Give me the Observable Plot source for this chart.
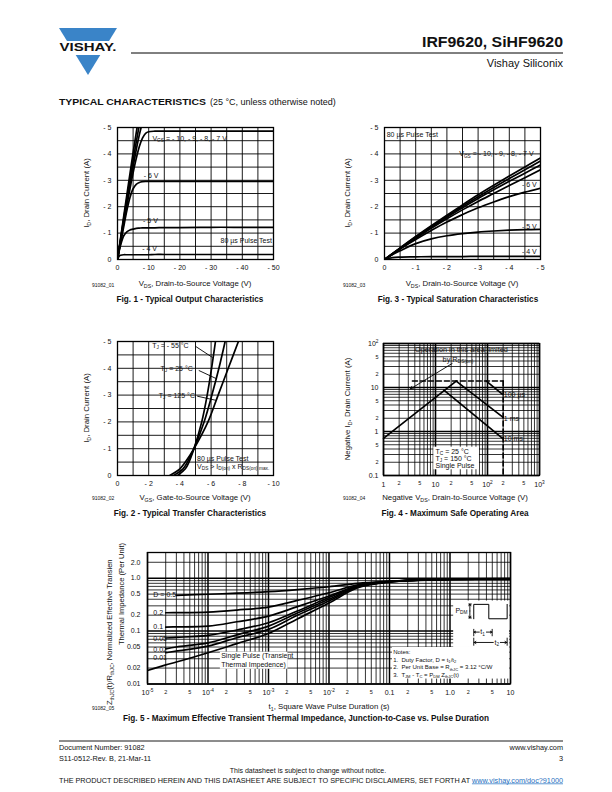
<!DOCTYPE html>
<html><head><meta charset="utf-8">
<script src="https://cdn.jsdelivr.net/npm/d3@7"></script>
<script src="https://cdn.jsdelivr.net/npm/@observablehq/plot@0.6"></script>
<style>
html,body{margin:0;padding:0;background:#fff;}
#page{position:relative;width:612px;height:792px;overflow:hidden;background:#fff;}
#ov{position:absolute;left:0;top:0;}
</style></head>
<body><div id="page"><svg id="ov" width="612" height="792" xmlns="http://www.w3.org/2000/svg"></svg></div>
<script>
// ---------------- DATA ----------------
// Fig. 1 - Typical Output Characteristics (VDS, ID)
const fig1Vds = [0,-0.5,-1,-2,-3,-4,-5,-6,-7,-8,-9,-10,-12,-15,-20,-30,-40,-50];
const fig1Id_vgs10 = [0,-0.41,-0.82,-1.64,-2.45,-3.25,-4.05,-4.8,-5.5];
const fig1Id_vgs9  = [0,-0.39,-0.78,-1.55,-2.3,-3.05,-3.75,-4.45,-5.1];
const fig1Id_vgs8  = [0,-0.37,-0.74,-1.47,-2.18,-2.87,-3.52,-4.15,-4.72,-5.2];
const fig1Id_vgs7  = [0,-0.35,-0.7,-1.38,-2.04,-2.68,-3.28,-3.82,-4.28,-4.6,-4.78,-4.84,-4.86,-4.86,-4.86,-4.86,-4.86,-4.86];
const fig1Id_vgs6  = [0,-0.33,-0.62,-1.25,-1.85,-2.35,-2.68,-2.85,-2.92,-2.95,-2.96,-2.96,-2.96,-2.96,-2.96,-2.96,-2.96,-2.96];
const fig1Id_vgs5  = [0,-0.3,-0.55,-0.9,-1.05,-1.12,-1.15,-1.18,-1.19,-1.2,-1.2,-1.2,-1.2,-1.21,-1.21,-1.22,-1.22,-1.22];
const fig1Id_vgs4  = [0,-0.12,-0.16,-0.18,-0.18,-0.18,-0.18,-0.18,-0.18,-0.18,-0.18,-0.18,-0.19,-0.19,-0.19,-0.19,-0.19,-0.19];
const fig1XTicks = [0,-10,-20,-30,-40,-50];
const fig1YTicks = [0,-1,-2,-3,-4,-5];

// Fig. 3 - Typical Saturation Characteristics
const fig3Vds = [0,-0.25,-0.5,-1,-1.5,-2,-2.5,-3,-3.5,-4,-4.5,-5];
const fig3Id_vgs10 = [0,-0.22,-0.44,-0.87,-1.28,-1.68,-2.07,-2.45,-2.81,-3.16,-3.5,-3.85];
const fig3Id_vgs9  = [0,-0.22,-0.43,-0.85,-1.25,-1.64,-2.02,-2.38,-2.73,-3.07,-3.4,-3.73];
const fig3Id_vgs8  = [0,-0.21,-0.42,-0.83,-1.22,-1.6,-1.96,-2.31,-2.64,-2.96,-3.27,-3.58];
const fig3Id_vgs7  = [0,-0.2,-0.41,-0.8,-1.18,-1.54,-1.88,-2.2,-2.5,-2.8,-3.1,-3.4];
const fig3Id_vgs6  = [0,-0.2,-0.4,-0.76,-1.1,-1.42,-1.7,-1.96,-2.18,-2.38,-2.55,-2.7];
const fig3Id_vgs5  = [0,-0.18,-0.33,-0.6,-0.78,-0.9,-0.98,-1.04,-1.08,-1.11,-1.13,-1.14];
const fig3Id_vgs4  = [0,-0.07,-0.09,-0.1,-0.11,-0.11,-0.11,-0.12,-0.12,-0.12,-0.12,-0.12];
const fig3XTicks = [0,-1,-2,-3,-4,-5];
const fig3YTicks = [0,-1,-2,-3,-4,-5];

// Fig. 2 - Typical Transfer Characteristics (ID common, VGS per TJ)
const fig2Id = [0,-0.25,-0.5,-1,-2,-3,-4,-5];
const fig2Vgs_m55 = [-3.85,-4.35,-4.58,-4.9,-5.4,-5.75,-6.03,-6.28];
const fig2Vgs_25  = [-3.6,-4.2,-4.48,-4.9,-5.55,-6.05,-6.5,-6.9];
const fig2Vgs_125 = [-3.35,-4.0,-4.35,-4.9,-5.8,-6.45,-7.1,-7.75];
const fig2XTicks = [0,-2,-4,-6,-8,-10];
const fig2YTicks = [0,-1,-2,-3,-4,-5];

// Fig. 4 - Maximum Safe Operating Area (segments, VDS / ID)
const soaRdsV = [1,25],      soaRdsI = [0.7,14];
const soa100usV = [95,200],  soa100usI = [14,6.8];
const soa1msV = [25,200],    soa1msI = [14,2.1];
const soa10msV = [14.5,200], soa10msI = [8.7,0.68];
const soaIdmV = [3.6,200],   soaIdmI = [14,14];
const soaVdssV = [200,200],  soaVdssI = [14,0.1];
const fig4XMajorTicks = [1,10,100,1000], fig4XMajorLabels = ["1","10","10^{2}","10^{3}"];
const fig4XMinorTicks = [2,5,20,50,200,500], fig4XMinorLabels = ["2","5","2","5","2","5"];
const fig4YMajorTicks = [0.1,1,10,100], fig4YMajorLabels = ["0.1","1","10","10^{2}"];
const fig4YMinorTicks = [0.2,0.5,2,5,20,50], fig4YMinorLabels = ["2","5","2","5","2","5"];

// Fig. 5 - Transient thermal impedance
const fig5T = [1e-5,2e-5,3e-5,1e-4,3e-4,1e-3,3e-3,1e-2,3e-2,0.1,0.3,1,10];
const fig5Z_D05  = [null,null,0.475,0.497,0.52,0.557,0.61,0.69,0.80,0.875,0.93,0.96,0.98];
const fig5Z_D02  = [null,0.222,0.223,0.229,0.25,0.285,0.38,0.53,0.75,0.87,0.925,0.955,0.975];
const fig5Z_D01  = [null,0.119,0.12,0.124,0.15,0.192,0.29,0.46,0.72,0.865,0.92,0.955,0.975];
const fig5Z_D005 = [null,0.074,0.076,0.083,0.105,0.144,0.24,0.43,0.71,0.86,0.92,0.95,0.975];
const fig5Z_D002 = [null,0.046,0.05,0.06,0.085,0.124,0.22,0.40,0.69,0.855,0.915,0.95,0.975];
const fig5Z_D001 = [null,0.039,0.042,0.052,0.075,0.108,0.2,0.37,0.68,0.85,0.915,0.95,0.975];
const fig5Z_single = [0.018,0.023,0.026,0.039,0.058,0.09,0.17,0.34,0.66,0.845,0.91,0.95,0.975];
const fig5XMajorTicks = [1e-5,1e-4,1e-3,1e-2,0.1,1,10];
const fig5XMajorLabels = ["10^{-5}","10^{-4}","10^{-3}","10^{-2}","0.1","1.0","10"];
const fig5XMinorTicks = [2e-5,5e-5,2e-4,5e-4,2e-3,5e-3,2e-2,5e-2,0.2,0.5,2,5];
const fig5YTicks = [2,1,0.5,0.2,0.1,0.05,0.02,0.01];
const fig5YLabels = ["2.0","1.0","0.5","0.2","0.1","0.05","0.02","0.01"];
const pulseT = [2.47,2.47,4.38,4.38,8.8,8.8], pulseZ = [0.171,0.32,0.32,0.171,0.171,0.32];

// ---------------- HELPERS ----------------
const NS = "http://www.w3.org/2000/svg";
const FONT = "'Liberation Sans', Arial, Helvetica, sans-serif";
const INK = "#111";
const page = document.getElementById("page");
const ov = document.getElementById("ov");

function richText(t, size) {
  const s = t.textContent;
  if (!/[_^]\{/.test(s)) return;
  while (t.firstChild) t.removeChild(t.firstChild);
  const re = /([_^])\{([^}]*)\}/g;
  let last = 0, cur = 0, m;
  const add = (str, off, small) => {
    const ts = document.createElementNS(NS, "tspan");
    const dy = off - cur;
    if (dy) ts.setAttribute("dy", dy.toFixed(2));
    if (small) ts.setAttribute("font-size", (size * 0.68).toFixed(2));
    ts.textContent = str;
    t.appendChild(ts);
    cur = off;
  };
  while ((m = re.exec(s))) {
    if (m.index > last) add(s.slice(last, m.index), 0, false);
    add(m[2], m[1] === "_" ? size * 0.2 : -size * 0.42, true);
    last = re.lastIndex;
  }
  if (last < s.length) add(s.slice(last), 0, false);
}

function otext(x, y, s, o = {}) {
  const size = o.size || 7.6;
  const t = document.createElementNS(NS, "text");
  t.setAttribute("x", x); t.setAttribute("y", y);
  t.setAttribute("font-size", size);
  t.setAttribute("font-family", FONT);
  if (o.weight) t.setAttribute("font-weight", o.weight);
  t.setAttribute("text-anchor", o.anchor || "start");
  t.setAttribute("fill", o.fill || INK);
  if (o.rotate) t.setAttribute("transform", `rotate(${o.rotate},${x},${y})`);
  t.textContent = s;
  ov.appendChild(t);
  richText(t, size);
  if (o.len) { t.setAttribute("textLength", o.len); t.setAttribute("lengthAdjust", "spacingAndGlyphs"); }
  return t;
}
function oline(x1, y1, x2, y2, w = 1) {
  const l = document.createElementNS(NS, "line");
  l.setAttribute("x1", x1); l.setAttribute("y1", y1); l.setAttribute("x2", x2); l.setAttribute("y2", y2);
  l.setAttribute("stroke", "#000"); l.setAttribute("stroke-width", w);
  ov.appendChild(l);
}
function opoly(pts, fill) {
  const p = document.createElementNS(NS, "polygon");
  p.setAttribute("points", pts.map(d => d.join(",")).join(" "));
  p.setAttribute("fill", fill);
  ov.appendChild(p);
}

function series(xs, list) {
  return list.flatMap(([k, ys]) => xs.map((x, i) => ({x, y: ys[i], k})).filter(d => d.y != null));
}
function seriesX(ys, list) {
  return list.flatMap(([k, xs]) => ys.map((y, i) => ({x: xs[i], y, k})));
}
function minorLog(lo, hi) {
  const a = [];
  for (let e = lo; e < hi; e++) for (let m = 2; m <= 9; m++) a.push(+(m * Math.pow(10, e)).toPrecision(3));
  return a;
}
const fmtNeg = d => d === 0 ? "0" : "- " + Math.abs(d);

const M = {l: 36, r: 12, t: 8, b: 18};
function place(opts, left, top, w, h) {
  const plot = Plot.plot({
    width: w + M.l + M.r, height: h + M.t + M.b,
    marginLeft: M.l, marginRight: M.r, marginTop: M.t, marginBottom: M.b,
    style: {background: "transparent", fontFamily: FONT, color: INK, overflow: "visible", maxWidth: "none"},
    ...opts
  });
  const div = document.createElement("div");
  div.style.cssText = `position:absolute;left:${left - M.l}px;top:${top - M.t}px;width:${w + M.l + M.r}px;`;
  div.appendChild(plot);
  page.appendChild(div);
  plot.querySelectorAll("text").forEach(t => richText(t, parseFloat(getComputedStyle(t).fontSize)));
  plot.querySelectorAll('g[aria-label="boxed"] text').forEach(t => {
    const bb = t.getBBox();
    const r = document.createElementNS(NS, "rect");
    r.setAttribute("x", bb.x - 1.2); r.setAttribute("y", bb.y - 0.2);
    r.setAttribute("width", bb.width + 2.4); r.setAttribute("height", bb.height + 0.4);
    r.setAttribute("fill", "white");
    const tr = t.getAttribute("transform");
    if (tr) r.setAttribute("transform", tr);
    t.parentNode.insertBefore(r, t);
  });
  return plot;
}
function linTicks(xd, yd, xt, yt) {
  return [
    Plot.text(xt, {x: d => d, y: yd[0], text: fmtNeg, dy: 8.5, fontSize: 7}),
    Plot.text(yt, {x: xd[0], y: d => d, text: fmtNeg, dx: -6, textAnchor: "end", fontSize: 7})
  ];
}
const GRID = {stroke: "#000", strokeWidth: 0.9};
const CURVE = {x: "x", y: "y", z: "k", stroke: "#000", strokeWidth: 1.7, curve: "catmull-rom", clip: true};
const BOX = {fontSize: 7, ariaLabel: "boxed", fill: INK};

// ---------------- FIG 1 ----------------
{
  const xd = [0, -50], yd = [0, -5];
  const data = series(fig1Vds, [["-10", fig1Id_vgs10], ["-9", fig1Id_vgs9], ["-8", fig1Id_vgs8], ["-7", fig1Id_vgs7], ["-6", fig1Id_vgs6], ["-5", fig1Id_vgs5], ["-4", fig1Id_vgs4]]);
  place({
    x: {domain: xd, axis: null}, y: {domain: yd, axis: null},
    marks: [
      Plot.ruleX(d3.range(0, -50.1, -5), GRID),
      Plot.ruleY(d3.range(0, -5.01, -0.5), GRID),
      Plot.line(data, CURVE),
      Plot.text(["V_{GS} = - 10, - 9, - 8, - 7 V"], {...BOX, x: -11.2, y: -4.57, textAnchor: "start"}),
      Plot.text(["- 6 V"], {...BOX, x: -8.4, y: -3.18, textAnchor: "start"}),
      Plot.text(["- 5 V"], {...BOX, x: -8.2, y: -1.45, textAnchor: "start"}),
      Plot.text(["- 4 V"], {...BOX, x: -7.9, y: -0.4, textAnchor: "start"}),
      Plot.text(["80 µs Pulse Test"], {...BOX, x: -49.5, y: -0.72, textAnchor: "end"}),
      Plot.frame({stroke: "#000", strokeWidth: 1.3}),
      ...linTicks(xd, yd, fig1XTicks, fig1YTicks)
    ]
  }, 117, 127, 156, 132);
}

// ---------------- FIG 3 ----------------
{
  const xd = [0, -5], yd = [0, -5];
  const data = series(fig3Vds, [["-10", fig3Id_vgs10], ["-9", fig3Id_vgs9], ["-8", fig3Id_vgs8], ["-7", fig3Id_vgs7], ["-6", fig3Id_vgs6], ["-5", fig3Id_vgs5], ["-4", fig3Id_vgs4]]);
  place({
    x: {domain: xd, axis: null}, y: {domain: yd, axis: null},
    marks: [
      Plot.ruleX(d3.range(0, -5.01, -0.5), GRID),
      Plot.ruleY(d3.range(0, -5.01, -0.5), GRID),
      Plot.line(data, CURVE),
      Plot.text(["80 µs Pulse Test"], {...BOX, x: -0.07, y: -4.72, textAnchor: "start"}),
      Plot.text(["V_{GS} = - 10, - 9, - 8, - 7 V"], {...BOX, x: -4.78, y: -4.0, textAnchor: "end"}),
      Plot.text(["- 6 V"], {...BOX, x: -4.88, y: -2.83, textAnchor: "end"}),
      Plot.text(["- 5 V"], {...BOX, x: -4.88, y: -1.25, textAnchor: "end"}),
      Plot.text(["- 4 V"], {...BOX, x: -4.88, y: -0.31, textAnchor: "end"}),
      Plot.frame({stroke: "#000", strokeWidth: 1.3}),
      ...linTicks(xd, yd, fig3XTicks, fig3YTicks)
    ]
  }, 384, 127, 156, 132);
}

// ---------------- FIG 2 ----------------
{
  const xd = [0, -10], yd = [0, -5];
  const data = seriesX(fig2Id, [["-55", fig2Vgs_m55], ["25", fig2Vgs_25], ["125", fig2Vgs_125]]);
  place({
    x: {domain: xd, axis: null}, y: {domain: yd, axis: null},
    marks: [
      Plot.ruleX(d3.range(0, -10.01, -1), GRID),
      Plot.ruleY(d3.range(0, -5.01, -0.5), GRID),
      Plot.line(data, CURVE),
      Plot.link([0], {x1: -5.0, y1: -4.82, x2: -6.1, y2: -4.4, stroke: "#000", strokeWidth: 0.9}),
      Plot.link([0], {x1: -5.21, y1: -3.92, x2: -6.35, y2: -3.61, stroke: "#000", strokeWidth: 0.9}),
      Plot.link([0], {x1: -5.11, y1: -2.96, x2: -6.35, y2: -2.8, stroke: "#000", strokeWidth: 0.9}),
      Plot.text(["T_{J} = - 55 °C"], {...BOX, x: -2.22, y: -4.85, textAnchor: "start"}),
      Plot.text(["T_{J} = 25 °C"], {...BOX, x: -2.76, y: -3.98, textAnchor: "start"}),
      Plot.text(["T_{J} = 125 °C"], {...BOX, x: -2.65, y: -2.98, textAnchor: "start"}),
      Plot.text(["80 µs Pulse Test"], {...BOX, x: -5.1, y: -0.64, textAnchor: "start"}),
      Plot.text(["V_{DS} > I_{D(on)} x R_{DS(on) max.}"], {...BOX, x: -5.1, y: -0.33, textAnchor: "start"}),
      Plot.frame({stroke: "#000", strokeWidth: 1.3}),
      ...linTicks(xd, yd, fig2XTicks, fig2YTicks)
    ]
  }, 117, 341, 156, 134);
}

// ---------------- FIG 4 ----------------
{
  const xd = [1, 1000], yd = [0.1, 100];
  const seg = (V, I, k) => V.map((v, i) => ({x: v, y: I[i], k}));
  const solid = [...seg(soaRdsV, soaRdsI, "rds"), ...seg(soa100usV, soa100usI, "100us"), ...seg(soa1msV, soa1msI, "1ms"), ...seg(soa10msV, soa10msI, "10ms")];
  const dashed = [...seg(soaIdmV, soaIdmI, "idm"), ...seg(soaVdssV, soaVdssI, "vdss")];
  place({
    x: {type: "log", domain: xd, axis: null}, y: {type: "log", domain: yd, axis: null},
    marks: [
      Plot.ruleX(minorLog(0, 3), {stroke: "#000", strokeWidth: 0.8}),
      Plot.ruleY(minorLog(-1, 2), {stroke: "#000", strokeWidth: 0.8}),
      Plot.ruleX(fig4XMajorTicks, {stroke: "#000", strokeWidth: 1.6}),
      Plot.ruleY(fig4YMajorTicks, {stroke: "#000", strokeWidth: 1.6}),
      Plot.rect([0], {x1: 9.3, x2: 70, y1: 0.135, y2: 0.44, fill: "white"}),
      Plot.line(dashed, {x: "x", y: "y", z: "k", stroke: "#000", strokeWidth: 1.6, strokeDasharray: "5,3"}),
      Plot.line(solid, {x: "x", y: "y", z: "k", stroke: "#000", strokeWidth: 1.7}),
      Plot.arrow([0], {x1: 20.9, y1: 35.1, x2: 3.3, y2: 9.3, stroke: "#000", strokeWidth: 0.9, headLength: 5}),
      Plot.text(["Operation in this area limited"], {...BOX, fontSize: 7.3, x: 31.5, y: 73, textAnchor: "middle"}),
      Plot.text(["by R_{DS(on)}"], {...BOX, fontSize: 7.3, x: 27, y: 43, textAnchor: "middle"}),
      Plot.text(["100 µs"], {...BOX, x: 206, y: 6.9, textAnchor: "start"}),
      Plot.text(["1 ms"], {...BOX, x: 206, y: 1.95, textAnchor: "start"}),
      Plot.text(["10 ms"], {...BOX, x: 206, y: 0.68, textAnchor: "start"}),
      Plot.text(["T_{C} = 25 °C"], {fontSize: 7, x: 10, y: 0.35, textAnchor: "start"}),
      Plot.text(["T_{J} = 150 °C"], {fontSize: 7, x: 10, y: 0.24, textAnchor: "start"}),
      Plot.text(["Single Pulse"], {fontSize: 7, x: 10, y: 0.164, textAnchor: "start"}),
      Plot.frame({stroke: "#000", strokeWidth: 1.3}),
      Plot.text(fig4XMajorTicks, {x: d => d, y: yd[0], text: (d, i) => fig4XMajorLabels[i], dy: 9, fontSize: 7}),
      Plot.text(fig4XMinorTicks, {x: d => d, y: yd[0], text: (d, i) => fig4XMinorLabels[i], dy: 8, fontSize: 5.5}),
      Plot.text(fig4YMajorTicks, {x: xd[0], y: d => d, text: (d, i) => fig4YMajorLabels[i], dx: -5, textAnchor: "end", fontSize: 7}),
      Plot.text(fig4YMinorTicks, {x: xd[0], y: d => d, text: (d, i) => fig4YMinorLabels[i], dx: -5, textAnchor: "end", fontSize: 5.5})
    ]
  }, 383, 343, 156, 132);
}

// ---------------- FIG 5 ----------------
{
  const xd = [1e-5, 10], yd = [0.01, 3.06];
  const data = series(fig5T, [["0.5", fig5Z_D05], ["0.2", fig5Z_D02], ["0.1", fig5Z_D01], ["0.05", fig5Z_D005], ["0.02", fig5Z_D002], ["0.01", fig5Z_D001], ["single", fig5Z_single]]);
  const pulse = pulseT.map((t, i) => ({x: t, y: pulseZ[i]}));
  const thin = {stroke: "#000", strokeWidth: 0.9, headLength: 3.5};
  const NOTE = {fontSize: 6.0, x: 0.115, textAnchor: "start"};
  place({
    x: {type: "log", domain: xd, axis: null}, y: {type: "log", domain: yd, axis: null},
    marks: [
      Plot.ruleX(minorLog(-5, 1), {stroke: "#000", strokeWidth: 0.8}),
      Plot.ruleY([...minorLog(-2, 0), 2], {stroke: "#000", strokeWidth: 0.8}),
      Plot.ruleX(fig5XMajorTicks, {stroke: "#000", strokeWidth: 1.5}),
      Plot.ruleY([0.01, 0.1, 1], {stroke: "#000", strokeWidth: 1.5}),
      Plot.line(data, CURVE),
      Plot.rect([0], {x1: 1.6e-4, x2: 2.1e-3, y1: 0.019, y2: 0.04, fill: "white"}),
      Plot.rect([0], {x1: 1.15, x2: 9.7, y1: 0.049, y2: 0.37, fill: "white"}),
      Plot.rect([0], {x1: 0.112, x2: 9.7, y1: 0.0124, y2: 0.049, fill: "white"}),
      Plot.text(["D = 0.5"], {...BOX, x: 1.25e-5, y: 0.48, textAnchor: "start"}),
      Plot.text(["0.2"], {...BOX, x: 1.25e-5, y: 0.222, textAnchor: "start"}),
      Plot.text(["0.1"], {...BOX, x: 1.25e-5, y: 0.119, textAnchor: "start"}),
      Plot.text(["0.05"], {...BOX, x: 1.25e-5, y: 0.071, textAnchor: "start"}),
      Plot.text(["0.02"], {...BOX, x: 1.25e-5, y: 0.0437, textAnchor: "start"}),
      Plot.text(["0.01"], {...BOX, x: 1.25e-5, y: 0.031, textAnchor: "start"}),
      Plot.text(["Single Pulse (Transient"], {fontSize: 7, x: 1.65e-4, y: 0.0336, textAnchor: "start"}),
      Plot.text(["Thermal Impedence)"], {fontSize: 7, x: 1.65e-4, y: 0.0233, textAnchor: "start"}),
      Plot.text(["Notes:"], {...NOTE, y: 0.0394}),
      Plot.text(["1.  Duty Factor, D = t_{1}/t_{2}"], {...NOTE, y: 0.02843}),
      Plot.text(["2.  Per Unit Base = R_{thJC} = 3.12 °C/W"], {...NOTE, y: 0.0205}),
      Plot.text(["3.  T_{JM} - T_{C} = P_{DM} Z_{thJC}(t)"], {...NOTE, y: 0.01479}),
      Plot.line(pulse, {x: "x", y: "y", stroke: "#000", strokeWidth: 1}),
      Plot.text(["P_{DM}"], {fontSize: 7, x: 1.23, y: 0.245, textAnchor: "start"}),
      Plot.arrow([0], {x1: 2.13, y1: 0.24, x2: 2.13, y2: 0.325, ...thin}),
      Plot.arrow([0], {x1: 2.13, y1: 0.24, x2: 2.13, y2: 0.177, ...thin}),
      Plot.link([0], {x1: 2.0, y1: 0.325, x2: 2.3, y2: 0.325, stroke: "#000", strokeWidth: 0.8}),
      Plot.link([0], {x1: 2.0, y1: 0.177, x2: 2.3, y2: 0.177, stroke: "#000", strokeWidth: 0.8}),
      Plot.link([0, 1], {x1: (d, i) => [2.47, 4.98][i], x2: (d, i) => [2.47, 4.98][i], y1: 0.08, y2: 0.11, stroke: "#000", strokeWidth: 0.9}),
      Plot.arrow([0], {x1: 3.05, y1: 0.0957, x2: 2.5, y2: 0.0957, ...thin}),
      Plot.arrow([0], {x1: 4.0, y1: 0.0957, x2: 4.93, y2: 0.0957, ...thin}),
      Plot.text(["t_{1}"], {fontSize: 7, x: 3.45, y: 0.0957, textAnchor: "middle"}),
      Plot.link([0, 1], {x1: (d, i) => [2.47, 8.8][i], x2: (d, i) => [2.47, 8.8][i], y1: 0.053, y2: 0.075, stroke: "#000", strokeWidth: 0.9}),
      Plot.arrow([0], {x1: 5.2, y1: 0.061, x2: 2.5, y2: 0.061, ...thin}),
      Plot.arrow([0], {x1: 6.8, y1: 0.061, x2: 8.7, y2: 0.061, ...thin}),
      Plot.text(["t_{2}"], {fontSize: 7, x: 5.95, y: 0.061, textAnchor: "middle"}),
      Plot.frame({stroke: "#000", strokeWidth: 1.3}),
      Plot.text(fig5XMajorTicks, {x: d => d, y: yd[0], text: (d, i) => fig5XMajorLabels[i], dy: 9, fontSize: 7}),
      Plot.text(fig5XMinorTicks, {x: d => d, y: yd[0], text: (d, i) => ["2", "5"][i % 2], dy: 8, fontSize: 5.5}),
      Plot.text(fig5YTicks, {x: xd[0], y: d => d, text: (d, i) => fig5YLabels[i], dx: -7, textAnchor: "end", fontSize: 7})
    ]
  }, 147, 551.5, 363, 131.5);
}

// ---------------- PAGE TEXT ----------------
// logo
opoly([[59, 28], [117, 28], [109, 41], [67, 41]], "#3a84c8");
opoly([[75.7, 55], [100.3, 55], [88, 75]], "#3a84c8");
otext(88, 51.3, "VISHAY.", {size: 11.5, weight: "bold", anchor: "middle", len: 57, fill: "#111"});
otext(563, 47, "IRF9620, SiHF9620", {size: 14, weight: "bold", anchor: "end", len: 141});
oline(131, 53, 563, 53, 1);
otext(563, 66.5, "Vishay Siliconix", {size: 11, anchor: "end"});
otext(59, 104.5, "TYPICAL CHARACTERISTICS", {size: 9.6, weight: "bold", len: 147});
otext(210, 104.5, "(25 °C, unless otherwise noted)", {size: 9});

// fig 1 text
otext(195, 286, "V_{DS}, Drain-to-Source Voltage (V)", {size: 7.8, anchor: "middle"});
otext(190, 302, "Fig. 1 - Typical Output Characteristics", {size: 8.2, weight: "bold", anchor: "middle"});
otext(92, 287, "91082_01", {size: 5});
otext(89, 193, "I_{D}, Drain Current (A)", {size: 7.8, anchor: "middle", rotate: -90});
// fig 3 text
otext(462, 286, "V_{DS}, Drain-to-Source Voltage (V)", {size: 7.8, anchor: "middle"});
otext(458, 302, "Fig. 3 - Typical Saturation Characteristics", {size: 8.2, weight: "bold", anchor: "middle"});
otext(343, 287, "91082_03", {size: 5});
otext(350, 193, "I_{D}, Drain Current (A)", {size: 7.8, anchor: "middle", rotate: -90});
// fig 2 text
otext(195, 500, "V_{GS}, Gate-to-Source Voltage (V)", {size: 7.8, anchor: "middle"});
otext(190, 516, "Fig. 2 - Typical Transfer Characteristics", {size: 8.2, weight: "bold", anchor: "middle"});
otext(92, 500, "91082_02", {size: 5});
otext(89, 408, "I_{D}, Drain Current (A)", {size: 7.8, anchor: "middle", rotate: -90});
// fig 4 text
otext(455, 500, "Negative V_{DS}, Drain-to-Source Voltage (V)", {size: 7.8, anchor: "middle"});
otext(455, 516, "Fig. 4 - Maximum Safe Operating Area", {size: 8.2, weight: "bold", anchor: "middle"});
otext(343, 500, "91082_04", {size: 5});
otext(350, 409, "Negative I_{D}, Drain Current (A)", {size: 7.8, anchor: "middle", rotate: -90});
// fig 5 text
otext(329, 709, "t_{1}, Square Wave Pulse Duration (s)", {size: 7.8, anchor: "middle"});
otext(306, 721, "Fig. 5 - Maximum Effective Transient Thermal Impedance, Junction-to-Case vs. Pulse Duration", {size: 8.2, weight: "bold", anchor: "middle"});
otext(92, 710, "91082_05", {size: 5});
otext(112, 705, "Z_{thJC}(t)/R_{thJC}, Normalized Effective Transien", {size: 7.6, anchor: "start", rotate: -90});
otext(123.5, 594, "Thermal Impedance (Per Unit)", {size: 7.6, anchor: "middle", rotate: -90});

// footer
oline(59, 741, 563, 741, 0.9);
otext(59, 749.5, "Document Number: 91082", {size: 7.3});
otext(59, 760.5, "S11-0512-Rev. B, 21-Mar-11", {size: 7.3});
otext(563, 749.5, "www.vishay.com", {size: 7.3, anchor: "end"});
otext(563, 760.5, "3", {size: 7.3, anchor: "end"});
otext(308, 772.5, "This datasheet is subject to change without notice.", {size: 7, anchor: "middle"});
{
  const t = document.createElementNS(NS, "text");
  t.setAttribute("x", 59); t.setAttribute("y", 782.5);
  t.setAttribute("font-size", 7); t.setAttribute("font-family", FONT); t.setAttribute("fill", INK);
  t.setAttribute("textLength", 504); t.setAttribute("lengthAdjust", "spacingAndGlyphs");
  const a = document.createElementNS(NS, "tspan");
  a.textContent = "THE PRODUCT DESCRIBED HEREIN AND THIS DATASHEET ARE SUBJECT TO SPECIFIC DISCLAIMERS, SET FORTH AT ";
  const b = document.createElementNS(NS, "tspan");
  b.textContent = "www.vishay.com/doc?91000";
  b.setAttribute("fill", "#1f6fc0"); b.setAttribute("text-decoration", "underline");
  t.appendChild(a); t.appendChild(b);
  ov.appendChild(t);
}
</script>
</body></html>
